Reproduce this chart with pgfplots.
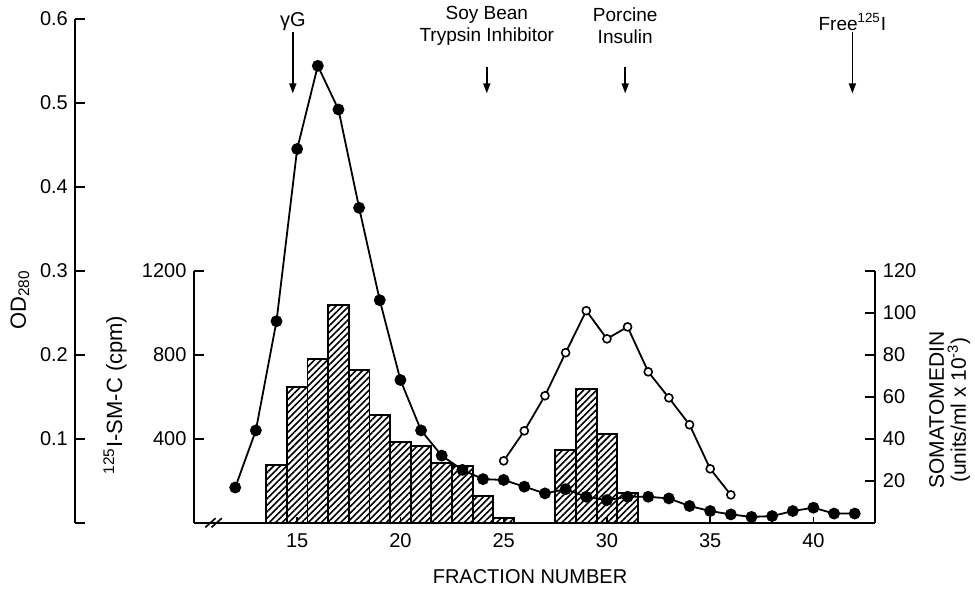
\documentclass[border=0pt]{standalone}
\usepackage{fontspec}
\setmainfont{Liberation Sans}
\usepackage{pgfplots}
\pgfplotsset{compat=1.18}
\usetikzlibrary{patterns.meta,arrows.meta}

\begin{document}
\begin{tikzpicture}[x=1pt,y=1pt]

% every axis shares one box: fractions 4.26..43; 0..2400 cpm = OD 0..0.6
\pgfplotsset{
  every axis/.append style={
    at={(36.5,32)}, anchor=south west,
    scale only axis, width=400pt, height=252pt,
    xmin=4.26, xmax=43, clip=false,
    line width=0.9pt, tick align=inside, major tick length=5pt,
    tick style={line width=0.9pt, black},
    axis line style={-},
    /pgf/number format/assume math mode=true,
    /pgf/number format/1000 sep={},
    tick label style={font=\fontsize{10}{11}\selectfont},
  },
}

% 125I-SM-C counts (hatched bars); 1200 cpm sits at half height
\begin{axis}[
  ymin=0, ymax=2400,
  axis x line*=bottom, axis y line*=left,
  axis y line shift=-59.3pt,
  x axis line style={shorten <=59.3pt},
  y axis line style={shorten >=126pt},
  xtick=\empty, ytick={400,800,1200},
]
\addplot[ybar, bar width=1, draw=black, line width=0.9pt,
  pattern={Lines[angle=45,distance=2.3pt,line width=0.8pt]}] coordinates {
  (14,276) (15,648) (16,781) (17,1038) (18,729) (19,514) (20,384)
  (21,365) (22,286) (23,271) (24,129) (25,24)
  (28,346) (29,638) (30,421) (31,143)
};
% axis break
\draw[line width=0.8pt] (axis cs:10.55,-22) -- (axis cs:11.05,22);
\draw[line width=0.8pt] (axis cs:10.85,-22) -- (axis cs:11.35,22);
\end{axis}

% x ticks and labels (shorter ticks)
\begin{axis}[
  ymin=0, ymax=2400,
  axis x line*=bottom, hide y axis,
  x axis line style={shorten <=59.3pt},
  xtick={15,20,...,40}, major tick length=3pt,
  xticklabel style={yshift=-1.5pt},
]
\end{axis}

% somatomedin (right axis, open circles); 120 at half height
\begin{axis}[
  ymin=0, ymax=240,
  axis y line*=right, axis x line=none,
  y axis line style={shorten >=126pt},
  ytick={20,40,...,120},
]
\addplot[black, line width=0.9pt, mark=*, mark size=2pt,
  mark options={fill=white, line width=0.8pt}] coordinates {
  (25,29.5) (26,43.8) (27,60.5) (28,81) (29,101) (30,87.6)
  (31,93.3) (32,71.9) (33,59.5) (34,46.7) (35,25.7) (36,13.3)
};
\end{axis}

% OD280 scale on the outer left line (0.1 OD = 400 units of this box)
\begin{axis}[
  ymin=0, ymax=2400,
  axis x line*=bottom, axis y line*=left,
  x axis line style={draw=none}, xtick=\empty,
  ytick={0,400,800,1200,1600,2000,2400},
  yticklabels={,0.1,0.2,0.3,0.4,0.5,0.6},
]
\addplot[black, line width=0.9pt, mark=*, mark size=2.5pt,
  y filter/.expression={4000*y}] coordinates {
  (12,0.042) (13,0.110) (14,0.240) (15,0.445) (16,0.544) (17,0.492)
  (18,0.375) (19,0.265) (20,0.170) (21,0.110) (22,0.080) (23,0.063)
  (24,0.052) (25,0.051) (26,0.043) (27,0.035) (28,0.040) (29,0.031)
  (30,0.027) (31,0.031) (32,0.031) (33,0.029) (34,0.020) (35,0.014)
  (36,0.010) (37,0.007) (38,0.008) (39,0.014) (40,0.018) (41,0.011)
  (42,0.011)
};
\end{axis}

% marker arrows and names at the top
\tikzset{mk/.style={-{Triangle[length=5pt,width=3.5pt]}, line width=0.8pt}}
\draw[mk] (146.4,279.0) -- (146.4,248.3);
\draw[mk] (243.4,261.3) -- (243.4,248.3);
\draw[mk] (312.6,261.3) -- (312.6,248.3);
\draw[mk] (426.2,279.0) -- (426.2,248.3);
\node[font=\fontsize{10}{10}\selectfont] at (146.4,284) {γG};
\node[font=\fontsize{9.5}{11}\selectfont, align=center] at (243.4,282)
  {Soy Bean\\Trypsin Inhibitor};
\node[font=\fontsize{9.5}{11}\selectfont, align=center] at (312.6,282)
  {Porcine\\Insulin};
\node[font=\fontsize{9.5}{10}\selectfont] at (426.2,284)
  {Free\textsuperscript{125}I};

% axis titles
\node[rotate=90, font=\fontsize{11}{12}\selectfont] at (10,145) {OD\textsubscript{280}};
\node[rotate=90, font=\fontsize{11}{12}\selectfont] at (57.5,97.5)
  {\textsuperscript{125}I-SM-C (cpm)};
\node[rotate=90, align=center, font=\fontsize{10.5}{11}\selectfont] at (474.8,90)
  {SOMATOMEDIN\\(units/ml x 10\textsuperscript{-3})};
\node[font=\fontsize{10}{12}\selectfont] at (265,6.5) {FRACTION NUMBER};

% fix the page to the reference frame
\pgfresetboundingbox
\path[use as bounding box] (0,0) rectangle (487.5,295);
\end{tikzpicture}
\end{document}
